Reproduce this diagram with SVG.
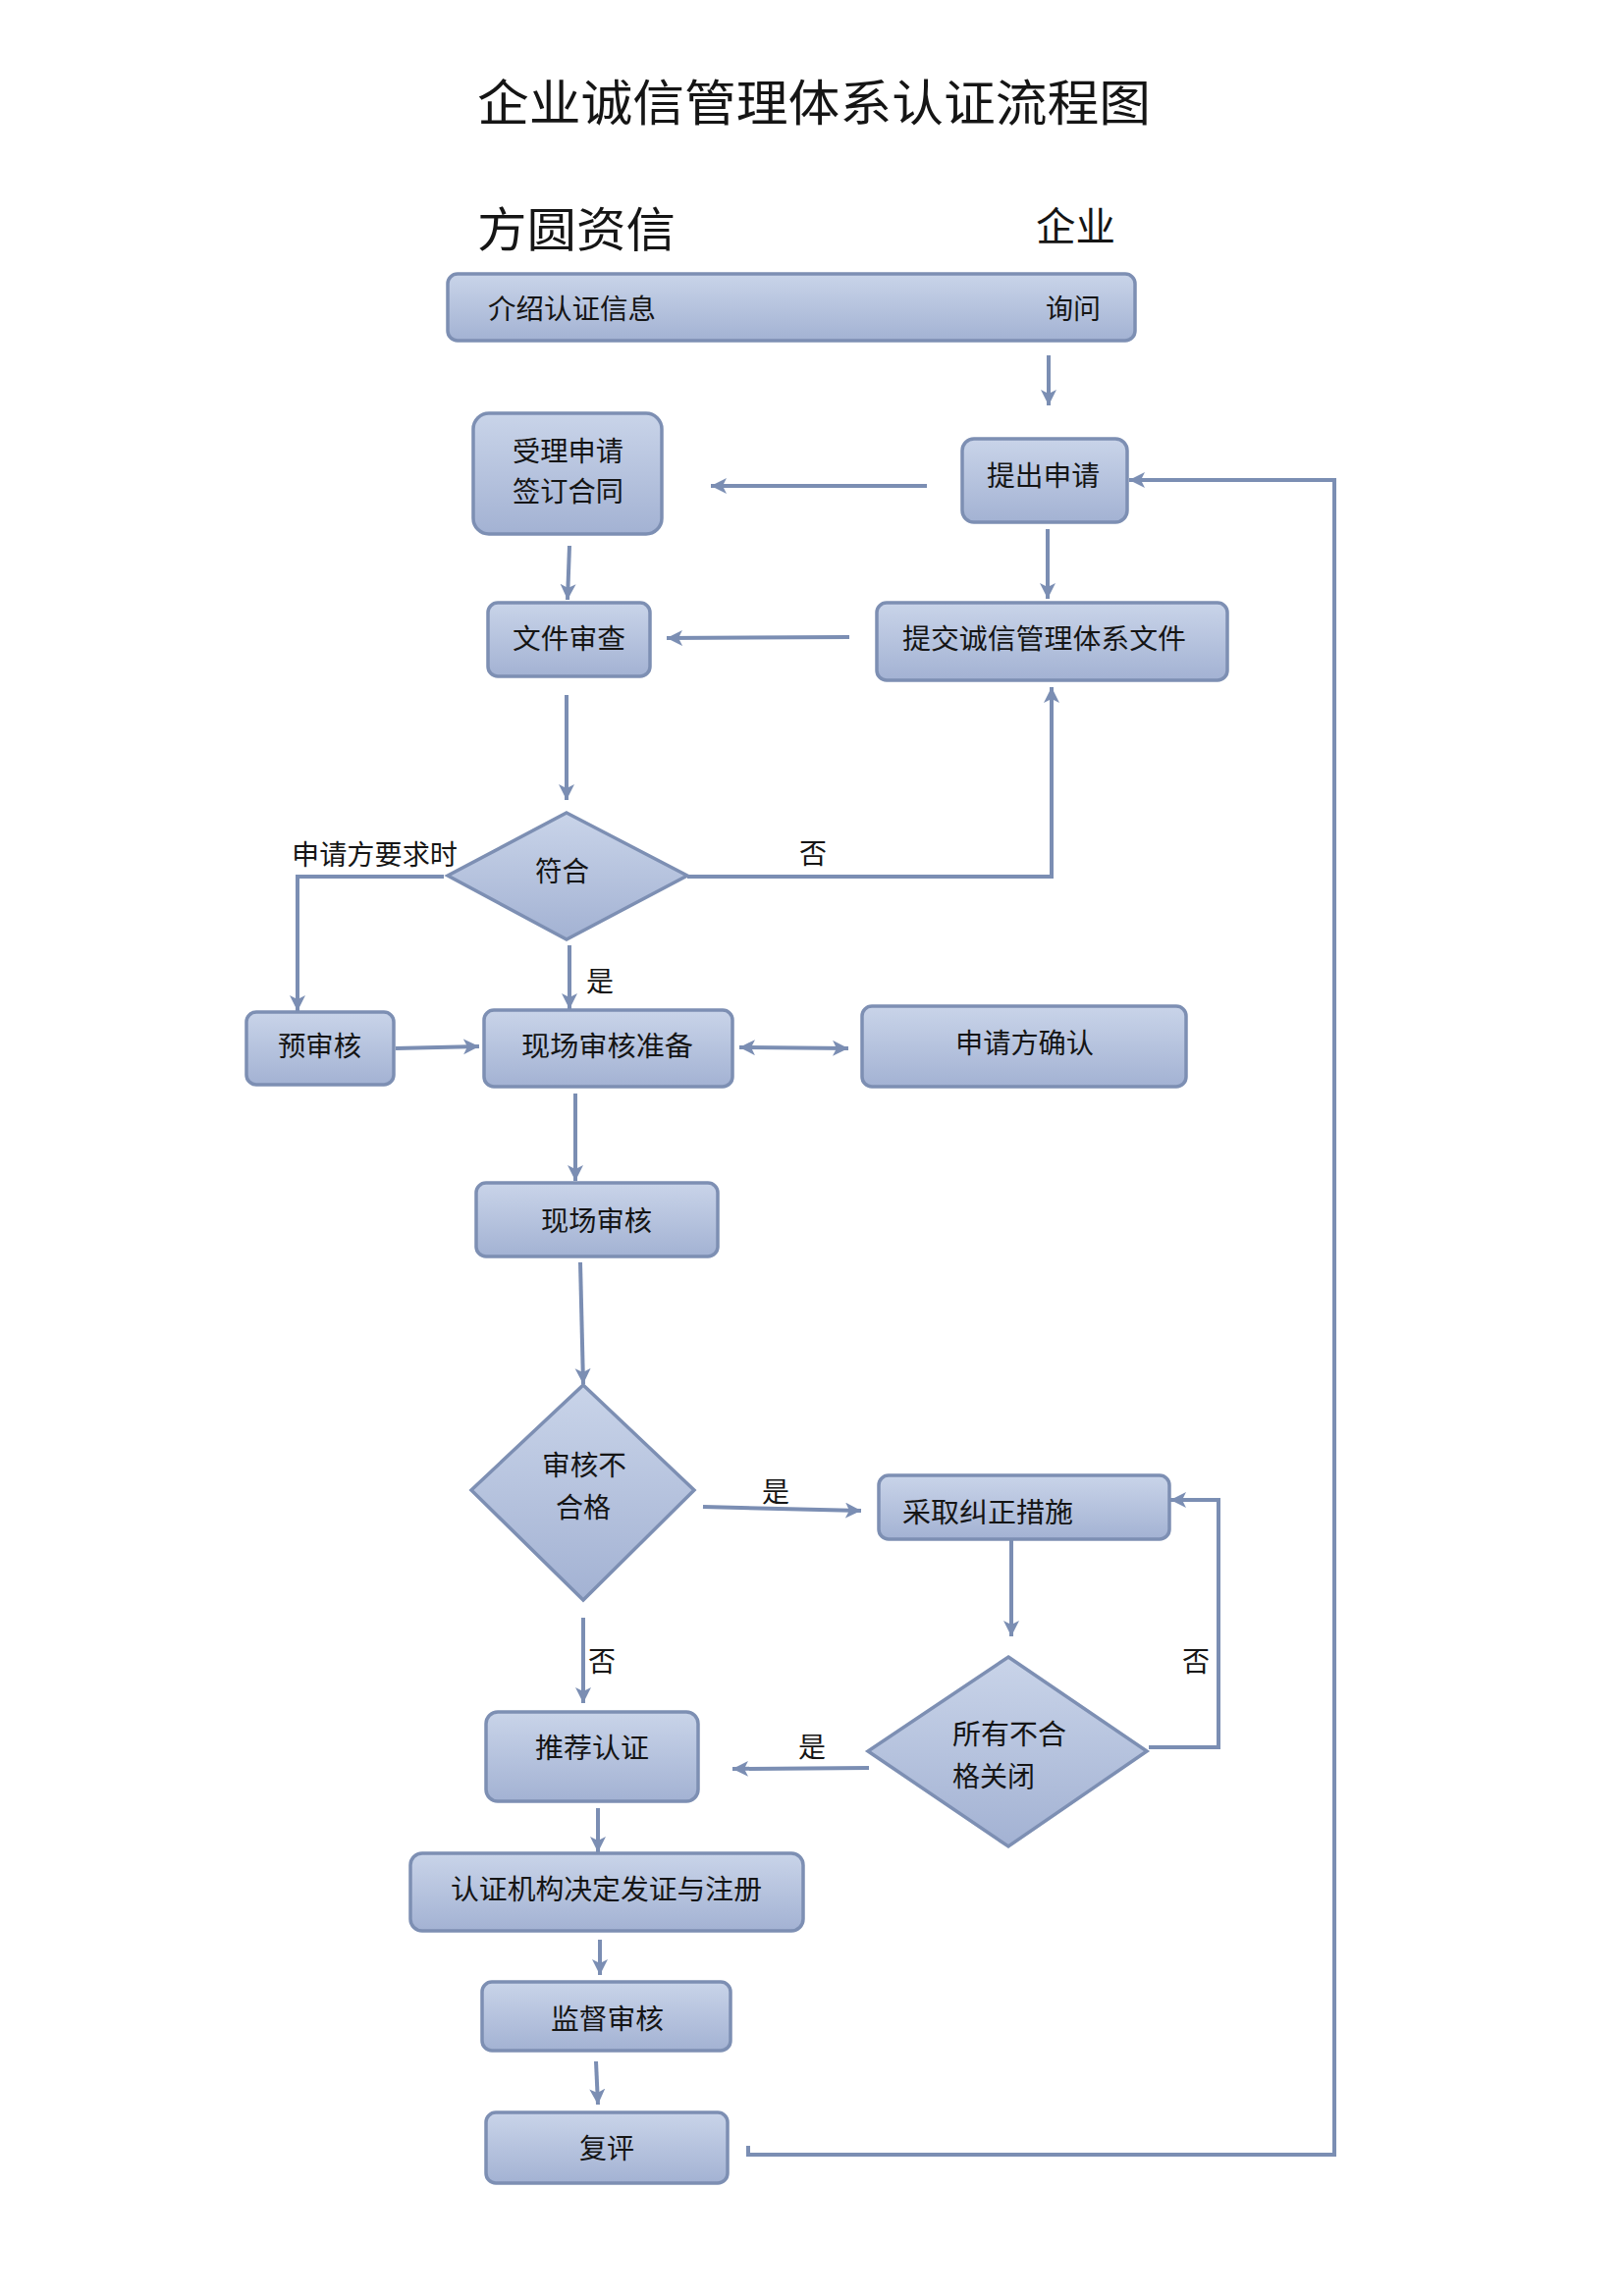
<svg xmlns="http://www.w3.org/2000/svg" width="1654" height="2339" viewBox="0 0 1654 2339">
<style>
.n{fill:url(#g);stroke:#7d8fb3;stroke-width:3.5}
.t{font-family:"Noto Sans CJK SC","Noto Sans CJK TC",sans-serif;font-size:28px;fill:#151515}
.c{fill:none;stroke:#7b8eb3;stroke-width:4}
</style>
<defs>
<linearGradient id="g" x1="0" y1="0" x2="0" y2="1">
<stop offset="0" stop-color="#c9d4e9"/>
<stop offset="1" stop-color="#a3b2d3"/>
</linearGradient>
<marker id="a" markerUnits="userSpaceOnUse" markerWidth="18" markerHeight="18" refX="16" refY="8" orient="auto-start-reverse">
<path d="M0,0 L16,8 L0,16 L4,8 z" fill="#7b8eb3"/>
</marker>
</defs>
<rect width="1654" height="2339" fill="#ffffff"/>
<g id="titles">
<text class="t" x="486" y="123" style="font-size:50px" textLength="686" lengthAdjust="spacingAndGlyphs">企业诚信管理体系认证流程图</text>
<text class="t" x="486" y="251" style="font-size:48px" textLength="202" lengthAdjust="spacingAndGlyphs">方圆资信</text>
<text class="t" x="1055" y="245" style="font-size:40px" textLength="81" lengthAdjust="spacingAndGlyphs">企业</text>
</g>
<g id="connectors">
<line class="c" x1="1068" y1="362" x2="1068" y2="413" marker-end="url(#a)"/>
<line class="c" x1="944" y1="495" x2="724" y2="495" marker-end="url(#a)"/>
<line class="c" x1="1067" y1="539" x2="1067" y2="610" marker-end="url(#a)"/>
<line class="c" x1="580" y1="556" x2="578" y2="611" marker-end="url(#a)"/>
<line class="c" x1="865" y1="649" x2="679" y2="650" marker-end="url(#a)"/>
<line class="c" x1="577" y1="708" x2="577" y2="815" marker-end="url(#a)"/>
<polyline class="c" points="700,893 1071,893 1071,700" marker-end="url(#a)"/>
<polyline class="c" points="452,893 303,893 303,1030" marker-end="url(#a)"/>
<line class="c" x1="580" y1="963" x2="580" y2="1028" marker-end="url(#a)"/>
<line class="c" x1="403" y1="1068" x2="488" y2="1066" marker-end="url(#a)"/>
<line class="c" x1="753" y1="1067" x2="864" y2="1068" marker-start="url(#a)" marker-end="url(#a)"/>
<line class="c" x1="586" y1="1114" x2="586" y2="1203" marker-end="url(#a)"/>
<line class="c" x1="591" y1="1286" x2="594" y2="1410" marker-end="url(#a)"/>
<line class="c" x1="716" y1="1535" x2="877" y2="1539" marker-end="url(#a)"/>
<line class="c" x1="1030" y1="1569" x2="1030" y2="1667" marker-end="url(#a)"/>
<polyline class="c" points="1170,1780 1241,1780 1241,1528 1192,1528" marker-end="url(#a)"/>
<line class="c" x1="594" y1="1648" x2="594" y2="1735" marker-end="url(#a)"/>
<line class="c" x1="885" y1="1801" x2="746" y2="1802" marker-end="url(#a)"/>
<line class="c" x1="609" y1="1842" x2="609" y2="1887" marker-end="url(#a)"/>
<line class="c" x1="611" y1="1976" x2="611" y2="2012" marker-end="url(#a)"/>
<line class="c" x1="607" y1="2100" x2="609" y2="2144" marker-end="url(#a)"/>
<polyline class="c" points="762,2186 762,2195 1359,2195 1359,489 1150,489" marker-end="url(#a)"/>
</g>
<g id="labels">
<text class="t" x="297" y="881" textLength="169" lengthAdjust="spacingAndGlyphs">申请方要求时</text>
<text class="t" x="814" y="880">否</text>
<text class="t" x="597" y="1010">是</text>
<text class="t" x="776" y="1530">是</text>
<text class="t" x="599" y="1703">否</text>
<text class="t" x="1204" y="1703">否</text>
<text class="t" x="813" y="1790">是</text>
</g>
<g id="n-intro">
<rect class="n" x="456" y="279" width="700" height="68" rx="10"/>
<text class="t" x="497" y="325" textLength="171" lengthAdjust="spacingAndGlyphs">介绍认证信息</text>
<text class="t" x="1065" y="325" textLength="56" lengthAdjust="spacingAndGlyphs">询问</text>
</g>
<g id="n-accept">
<rect class="n" x="482" y="421" width="192" height="123" rx="16"/>
<text class="t" x="522" y="470" textLength="113" lengthAdjust="spacingAndGlyphs">受理申请</text>
<text class="t" x="522" y="511" textLength="113" lengthAdjust="spacingAndGlyphs">签订合同</text>
</g>
<g id="n-apply">
<rect class="n" x="980" y="447" width="168" height="85" rx="12"/>
<text class="t" x="1005" y="495" textLength="115" lengthAdjust="spacingAndGlyphs">提出申请</text>
</g>
<g id="n-submit">
<rect class="n" x="893" y="614" width="357" height="79" rx="10"/>
<text class="t" x="919" y="661" textLength="289" lengthAdjust="spacingAndGlyphs">提交诚信管理体系文件</text>
</g>
<g id="n-docreview">
<rect class="n" x="497" y="614" width="165" height="75" rx="10"/>
<text class="t" x="522" y="661" textLength="115" lengthAdjust="spacingAndGlyphs">文件审查</text>
</g>
<g id="n-conform">
<polygon class="n" points="577,828 700,892 577,957 456,892"/>
<text class="t" x="545" y="898" textLength="55" lengthAdjust="spacingAndGlyphs">符合</text>
</g>
<g id="n-preaudit">
<rect class="n" x="251" y="1031" width="150" height="74" rx="10"/>
<text class="t" x="283" y="1076" textLength="85" lengthAdjust="spacingAndGlyphs">预审核</text>
</g>
<g id="n-prep">
<rect class="n" x="493" y="1029" width="253" height="78" rx="10"/>
<text class="t" x="531" y="1076" textLength="175" lengthAdjust="spacingAndGlyphs">现场审核准备</text>
</g>
<g id="n-confirm">
<rect class="n" x="878" y="1025" width="330" height="82" rx="10"/>
<text class="t" x="973" y="1073" textLength="141" lengthAdjust="spacingAndGlyphs">申请方确认</text>
</g>
<g id="n-onsite">
<rect class="n" x="485" y="1205" width="246" height="75" rx="10"/>
<text class="t" x="551" y="1254" textLength="113" lengthAdjust="spacingAndGlyphs">现场审核</text>
</g>
<g id="n-fail">
<polygon class="n" points="594,1411 707,1518 594,1630 480,1518"/>
<text class="t" x="552" y="1503" textLength="86" lengthAdjust="spacingAndGlyphs">审核不</text>
<text class="t" x="566" y="1546" textLength="56" lengthAdjust="spacingAndGlyphs">合格</text>
</g>
<g id="n-corrective">
<rect class="n" x="895" y="1503" width="296" height="65" rx="10"/>
<text class="t" x="919" y="1551" textLength="174" lengthAdjust="spacingAndGlyphs">采取纠正措施</text>
</g>
<g id="n-closed">
<polygon class="n" points="1027,1688 1168,1784 1027,1881 884,1784"/>
<text class="t" x="970" y="1777" textLength="116" lengthAdjust="spacingAndGlyphs">所有不合</text>
<text class="t" x="970" y="1820" textLength="84" lengthAdjust="spacingAndGlyphs">格关闭</text>
</g>
<g id="n-recommend">
<rect class="n" x="495" y="1744" width="216" height="91" rx="12"/>
<text class="t" x="545" y="1791" textLength="116" lengthAdjust="spacingAndGlyphs">推荐认证</text>
</g>
<g id="n-decide">
<rect class="n" x="418" y="1888" width="400" height="79" rx="12"/>
<text class="t" x="459" y="1935" textLength="317" lengthAdjust="spacingAndGlyphs">认证机构决定发证与注册</text>
</g>
<g id="n-surveil">
<rect class="n" x="491" y="2019" width="253" height="70" rx="10"/>
<text class="t" x="561" y="2067" textLength="115" lengthAdjust="spacingAndGlyphs">监督审核</text>
</g>
<g id="n-reassess">
<rect class="n" x="495" y="2152" width="246" height="72" rx="10"/>
<text class="t" x="590" y="2199" textLength="56" lengthAdjust="spacingAndGlyphs">复评</text>
</g>
</svg>
